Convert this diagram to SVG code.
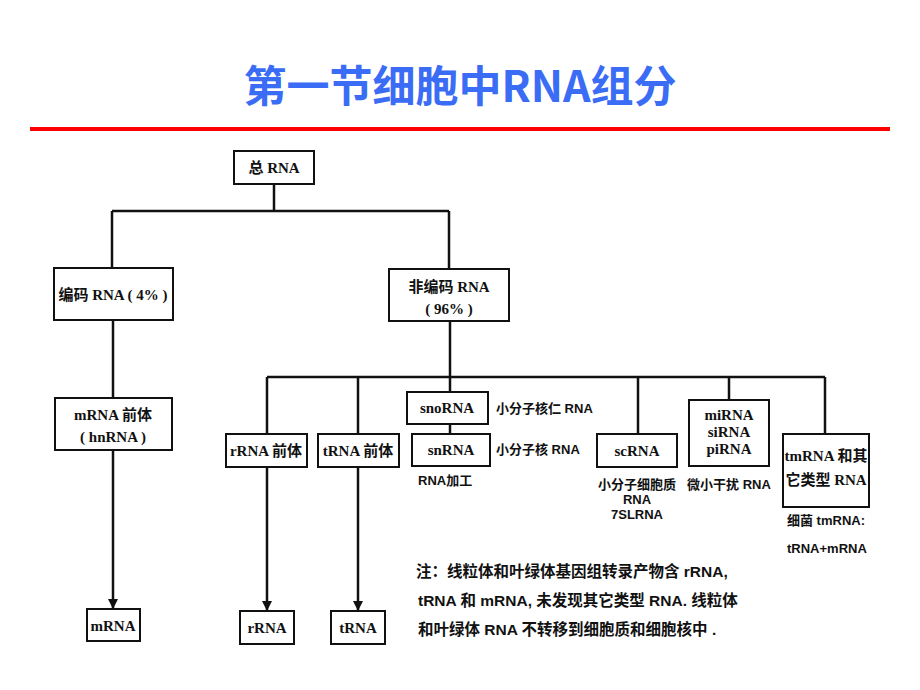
<svg xmlns="http://www.w3.org/2000/svg" width="920" height="690" viewBox="0 0 920 690">
<defs>
<style>
.box{fill:#fff;stroke:#111;stroke-width:2}
.ln{fill:none;stroke:#111;stroke-width:2.5}
.t{font-family:"Liberation Serif","Noto Sans CJK SC",serif;font-weight:bold;font-size:15px;fill:#111;text-anchor:middle}
.s{font-family:"Liberation Sans","Noto Sans CJK SC",sans-serif;font-weight:bold;font-size:13px;fill:#111}
.n{font-family:"Liberation Sans","Noto Sans CJK SC",sans-serif;font-weight:bold;font-size:15.5px;fill:#111}
</style>
<marker id="ah" viewBox="0 0 10 12" refX="10" refY="6" markerWidth="10" markerHeight="12" orient="auto" markerUnits="userSpaceOnUse">
<path d="M0,1 L10,6 L0,11 Z" fill="#111"/>
</marker>
</defs>
<rect width="920" height="690" fill="#fff"/>
<g id="title">
<text x="460" y="102" font-family="'Noto Sans CJK SC','Liberation Sans',sans-serif" font-weight="bold" font-size="43" fill="#3b6cf5" text-anchor="middle">第一节细胞中RNA组分</text>
<rect x="30" y="127" width="860" height="4" fill="#f00"/>
</g>
<g id="connectors">
<path class="ln" d="M274,184 V211 M112,211 H449 M112,211 V268 M449,211 V269"/>
<path class="ln" d="M113,320 V398"/>
<path class="ln" d="M113,450 V609" marker-end="url(#ah)"/>
<path class="ln" d="M450,321 V377 M267,377 H825 M267,377 V434 M358,377 V434 M450,377 V392 M450,424 V434 M638,377 V434 M729,377 V400 M825,377 V434"/>
<path class="ln" d="M267,467 V611" marker-end="url(#ah)"/>
<path class="ln" d="M358,467 V611" marker-end="url(#ah)"/>
</g>
<g id="n-total"><rect class="box" x="234" y="151" width="80" height="33"/><text class="t" x="274" y="173">总 RNA</text></g>
<g id="n-coding"><rect class="box" x="54" y="268" width="119" height="52"/><text class="t" x="113" y="300">编码 RNA ( 4% )</text></g>
<g id="n-noncoding"><rect class="box" x="389" y="269" width="120" height="52"/><text class="t" x="449" y="292">非编码 RNA</text><text class="t" x="449" y="314">( 96% )</text></g>
<g id="n-premrna"><rect class="box" x="55" y="398" width="117" height="52"/><text class="t" x="113" y="420">mRNA 前体</text><text class="t" x="113" y="442">( hnRNA )</text></g>
<g id="n-mrna"><rect class="box" x="87" y="609" width="53" height="32"/><text class="t" x="113" y="631">mRNA</text></g>
<g id="n-prerrna"><rect class="box" x="226" y="434" width="81" height="33"/><text class="t" x="266" y="456">rRNA 前体</text></g>
<g id="n-rrna"><rect class="box" x="240" y="611" width="54" height="33"/><text class="t" x="267" y="633">rRNA</text></g>
<g id="n-pretrna"><rect class="box" x="318" y="434" width="81" height="33"/><text class="t" x="358" y="456">tRNA 前体</text></g>
<g id="n-trna"><rect class="box" x="331" y="611" width="54" height="33"/><text class="t" x="358" y="633">tRNA</text></g>
<g id="n-snorna"><rect class="box" x="407" y="392" width="81" height="32"/><text class="t" x="447" y="413">snoRNA</text><text class="s" x="496" y="413">小分子核仁 RNA</text></g>
<g id="n-snrna"><rect class="box" x="412" y="434" width="78" height="32"/><text class="t" x="451" y="455">snRNA</text><text class="s" x="496" y="454">小分子核 RNA</text><text class="s" x="418" y="485" font-weight="normal">RNA加工</text></g>
<g id="n-scrna"><rect class="box" x="597" y="434" width="80" height="33"/><text class="t" x="637" y="456">scRNA</text>
<text class="s" x="637" y="489" text-anchor="middle">小分子细胞质</text><text class="s" x="637" y="504" text-anchor="middle" fill="#2a1515">RNA</text><text class="s" x="637" y="519" text-anchor="middle" fill="#3a1515">7SLRNA</text></g>
<g id="n-mirna"><rect class="box" x="689" y="400" width="80" height="66"/><text class="t" x="729" y="420">miRNA</text><text class="t" x="729" y="437">siRNA</text><text class="t" x="729" y="454">piRNA</text><text class="s" x="729" y="489" text-anchor="middle">微小干扰 RNA</text></g>
<g id="n-tmrna"><rect class="box" x="783" y="434" width="86" height="73"/><text class="t" x="826" y="461" font-size="16">tmRNA 和其</text><text class="t" x="826" y="485" font-size="16">它类型 RNA</text><text class="s" x="787" y="525">细菌 tmRNA:</text><text class="s" x="787" y="553" font-size="12">tRNA+mRNA</text></g>
<g id="note">
<text class="n" x="416" y="577">注：线粒体和叶绿体基因组转录产物含 rRNA,</text>
<text class="n" x="418" y="606">tRNA 和 mRNA,  未发现其它类型 RNA. 线粒体</text>
<text class="n" x="418" y="635">和叶绿体 RNA 不转移到细胞质和细胞核中 .</text>
</g>
</svg>
